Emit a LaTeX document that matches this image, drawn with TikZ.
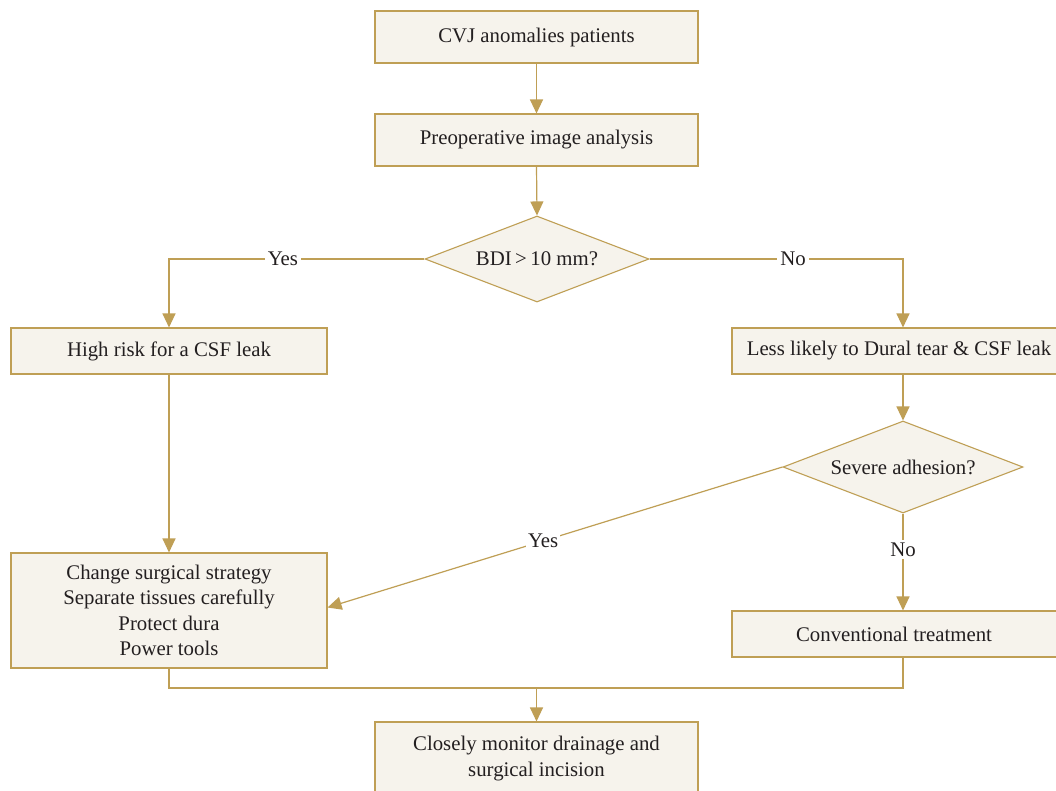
\documentclass[tikz,border=0pt]{standalone}
\usepackage{fontspec}
\setmainfont{Liberation Serif}
\usetikzlibrary{shapes.geometric,arrows.meta}
\definecolor{gold}{HTML}{BF9F55}
\definecolor{boxfill}{HTML}{F6F3EC}
\definecolor{txt}{HTML}{231F20}
\tikzset{
  box/.style={draw=gold, fill=boxfill, line width=1.1pt, text=txt, align=center, inner sep=0pt,
    font=\fontsize{20.8pt}{25.5pt}\selectfont},
  dec/.style={diamond, aspect=2.6, draw=gold, fill=boxfill, line width=1.1pt, text=txt, inner sep=0pt,
    font=\fontsize{20.8pt}{25.5pt}\selectfont},
  conn/.style={draw=gold, line width=1.2pt},
  arr/.style={conn, -{Triangle[length=14pt,width=13pt]}},
  lbl/.style={fill=white, text=txt, inner sep=3pt, font=\fontsize{20.8pt}{25.5pt}\selectfont}
}
\begin{document}
\begin{tikzpicture}[x=1pt,y=-1pt]
\useasboundingbox[fill=white] (0,0) rectangle (1056,790);
\node[box, minimum width=323pt, minimum height=52pt] (b1) at (536.5,37) {CVJ anomalies patients};
\node[box, minimum width=323pt, minimum height=52pt] (b2) at (536.5,140) {Preoperative image analysis};
\node[dec, minimum width=224pt, minimum height=86pt] (d1) at (537,259) {BDI\,>\,10 mm?};
\node[box, minimum width=316pt, minimum height=46pt] (b3) at (169,351) {High risk for a CSF leak};
\node[box, minimum width=342pt, minimum height=46pt] (b4) at (903,351) {\hspace*{-8pt}Less likely to Dural tear \& CSF leak};
\node[dec, minimum width=240pt, minimum height=92pt] (d2) at (903,467) {Severe adhesion?};
\node[box, minimum width=316pt, minimum height=115pt] (b5) at (169,610.5) {Change surgical strategy\\Separate tissues carefully\\Protect dura\\Power tools};
\node[box, minimum width=342pt, minimum height=46pt] (b7) at (903,634) {\hspace*{-18pt}Conventional treatment};
\node[box, minimum width=323pt, minimum height=73pt] (b8) at (536.5,758.5) {Closely monitor drainage and\\surgical incision};
\coordinate (j) at (536.5,688);

\draw[arr] (b1.south) -- (b2.north);
\draw[arr] (b2.south) -- (d1.north);
\draw[arr] (d1.west) -| node[lbl, pos=0.277] {Yes} (b3.north);
\draw[arr] (d1.east) -| node[lbl, pos=0.283] {No} (b4.north);
\draw[arr] (b4.south) -- (d2.north);
\draw[arr] (b3.south) -- (b5.north);
\draw[arr] (d2.west) -- node[lbl, pos=0.526, inner sep=2pt] {Yes} ([yshift=3pt]b5.east);
\draw[arr] (d2.south) -- node[lbl, pos=0.37] {No} (b7.north);
\draw[conn] (b5.south) |- (j) -| (b7.south);
\draw[arr] (j) -- (b8.north);
\end{tikzpicture}
\end{document}
